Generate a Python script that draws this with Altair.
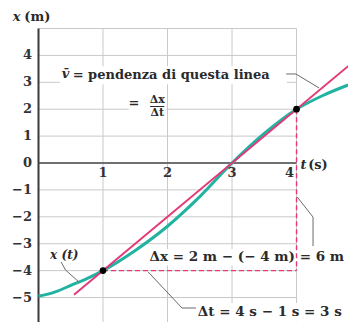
import altair as alt
import pandas as pd

# position x(t) of the moving body, read at sample times (s -> m)
t_curve = [0.0, 0.25, 0.5, 0.75, 1.0, 1.5, 2.0, 2.5, 3.0, 3.5, 4.0, 4.4, 4.8]
x_curve = [-4.95, -4.8, -4.55, -4.3, -4.0, -3.25, -2.35, -1.25, 0.0, 1.1, 2.0, 2.5, 2.9]

# the two instants that bound the interval
t_pts = [1, 4]
x_pts = [-4, 2]

# secant through the two points (slope = average velocity = 2 m/s)
t_sec = [0.55, 4.8]
x_sec = [-4.9, 3.6]

# axis ticks
x_ticks = [1, 2, 3, 4]
y_ticks = [5, 4, 3, 2, 1, 0, -1, -2, -3, -4, -5]
y_labels = ["4", "3", "2", "1", "0", "−1", "−2", "−3", "−4", "−5"]
y_label_vals = [4, 3, 2, 1, 0, -1, -2, -3, -4, -5]

T_MIN, T_MAX = -0.597, 4.798
V_MIN, V_MAX = -5.91, 6.06
GRID_TOP = 5
FONT = "DejaVu Serif"
TEAL = "#22b2a2"
PINK = "#e23a78"

xs = alt.Scale(domain=[T_MIN, T_MAX], nice=False, zero=False)
ys = alt.Scale(domain=[V_MIN, V_MAX], nice=False, zero=False)


def X(f="t"):
    return alt.X(f"{f}:Q", scale=xs, axis=None)


def Y(f="v"):
    return alt.Y(f"{f}:Q", scale=ys, axis=None)


# grid
vgrid = pd.DataFrame({"t": x_ticks, "v0": V_MIN, "v1": GRID_TOP})
hgrid = pd.DataFrame({"v": y_ticks, "t0": 0, "t1": 4})
grid_v = alt.Chart(vgrid).mark_rule(color="#c9c9c9", strokeWidth=1).encode(
    x=X(), y=Y("v0"), y2="v1")
grid_h = alt.Chart(hgrid).mark_rule(color="#c9c9c9", strokeWidth=1).encode(
    y=Y(), x=X("t0"), x2="t1")

# axes
y_axis = alt.Chart(pd.DataFrame({"t": [0], "v0": [V_MIN], "v1": [GRID_TOP]})).mark_rule(
    color="#3a3a3a", strokeWidth=2).encode(x=X(), y=Y("v0"), y2="v1")
x_axis = alt.Chart(pd.DataFrame({"v": [0], "t0": [0], "t1": [4]})).mark_rule(
    color="#4a4a4a", strokeWidth=1.6).encode(y=Y(), x=X("t0"), x2="t1")

ylab = alt.Chart(pd.DataFrame({"v": y_label_vals, "lab": y_labels, "t": -0.1})).mark_text(
    font=FONT, fontSize=13, fontWeight="bold", align="right", baseline="middle",
    color="#333").encode(x=X(), y=Y(), text="lab:N")
xlab_df = pd.DataFrame({"t": x_ticks, "lab": [str(v) for v in x_ticks], "v": -0.37})
xlab = alt.Chart(xlab_df[xlab_df.t < 4]).mark_text(
    font=FONT, fontSize=13, fontWeight="bold", align="center", baseline="middle",
    color="#333").encode(x=X(), y=Y(), text="lab:N")
xlab4 = alt.Chart(xlab_df[xlab_df.t == 4]).mark_text(
    font=FONT, fontSize=13, fontWeight="bold", align="center", baseline="middle",
    dx=-7, color="#333").encode(x=X(), y=Y(), text="lab:N")

# axis titles
def label(df, **kw):
    style = dict(font=FONT, fontSize=13, fontWeight="bold", align="left",
                 baseline="middle", color="#2a2a2a")
    style.update(kw)
    return alt.Chart(pd.DataFrame(df)).mark_text(**style).encode(x=X(), y=Y(), text="s:N")

title_x1 = label({"t": [-0.4], "v": [5.43], "s": ["x"]}, fontStyle="italic")
title_x2 = label({"t": [-0.22], "v": [5.43], "s": ["(m)"]})
title_t1 = label({"t": [4.06], "v": [-0.07], "s": ["t"]}, fontStyle="italic")
title_t2 = label({"t": [4.18], "v": [-0.07], "s": ["(s)"]})

# white boxes behind annotation text
boxes = pd.DataFrame({
    "t0": [0.33, 1.40, 1.68, 2.43],
    "t1": [3.85, 1.98, 4.8, 4.8],
    "v0": [2.93, 1.6, -3.81, -5.9],
    "v1": [3.6, 2.55, -3.2, -5.2],
})
box = alt.Chart(boxes).mark_rect(color="white").encode(
    x=X("t0"), x2="t1", y=Y("v0"), y2="v1")

# curve, secant, dashed legs, points
curve = alt.Chart(pd.DataFrame({"t": t_curve, "v": x_curve})).mark_line(
    color=TEAL, strokeWidth=3, interpolate="monotone").encode(x=X(), y=Y(), order="t:Q")
secant = alt.Chart(pd.DataFrame({"t": t_sec, "v": x_sec})).mark_line(
    color=PINK, strokeWidth=2).encode(x=X(), y=Y())
dash_h = alt.Chart(pd.DataFrame({"t0": [t_pts[0]], "t1": [t_pts[1]], "v": [x_pts[0]]})).mark_rule(
    color=PINK, strokeWidth=1.4, strokeDash=[5, 3]).encode(x=X("t0"), x2="t1", y=Y())
dash_v = alt.Chart(pd.DataFrame({"t": [t_pts[1]], "v0": [x_pts[1]], "v1": [x_pts[0]]})).mark_rule(
    color=PINK, strokeWidth=1.4, strokeDash=[5, 3]).encode(x=X(), y=Y("v0"), y2="v1")
points = alt.Chart(pd.DataFrame({"t": t_pts, "v": x_pts})).mark_circle(
    color="black", size=45, opacity=1).encode(x=X(), y=Y())

# leader lines
leaders = pd.DataFrame({
    "g": ["a"] * 3 + ["b"] * 3 + ["c"] * 3 + ["d"] * 3,
    "k": [0, 1, 2] * 4,
    "t": [3.84, 3.99, 4.35, 0.35, 0.42, 0.63, 4.01, 4.256, 4.256, 1.70, 2.225, 2.44],
    "v": [3.31, 3.31, 2.79, -3.68, -3.98, -4.43, -1.26, -2.01, -3.09, -4.05, -5.39, -5.39],
})
leader = alt.Chart(leaders).mark_line(color="#6a6a6a", strokeWidth=1).encode(
    x=X(), y=Y(), detail="g:N", order="k:Q")

# annotation texts
v_bar = label({"t": [0.36], "v": [3.3], "s": ["v\u0304"]}, fontStyle="italic")
slope_txt = label({"t": [0.53], "v": [3.27], "s": ["= pendenza di questa linea"]})
eq_txt = label({"t": [1.48], "v": [2.22], "s": ["="]}, align="center")
frac_top = label({"t": [1.84], "v": [2.36], "s": ["Δx"]}, align="center", fontSize=11)
frac_bot = label({"t": [1.84], "v": [1.86], "s": ["Δt"]}, align="center", fontSize=11)
frac_bar = alt.Chart(pd.DataFrame({"t0": [1.73], "t1": [1.95], "v": [2.1]})).mark_rule(
    color="#2a2a2a", strokeWidth=1).encode(x=X("t0"), x2="t1", y=Y())
xt_txt = label({"t": [0.18], "v": [-3.42], "s": ["x (t)"]}, fontStyle="italic", fontSize=12)
dx_txt = label({"t": [1.72], "v": [-3.49], "s": ["Δx = 2 m − (− 4 m) = 6 m"]}, fontSize=13.5)
dt_txt = label({"t": [2.47], "v": [-5.52], "s": ["Δt = 4 s − 1 s = 3 s"]}, fontSize=13.5)

chart = alt.layer(
    grid_v, grid_h, box, y_axis, x_axis, dash_h, dash_v, curve, secant, points,
    leader, ylab, xlab, xlab4, title_x1, title_x2, title_t1, title_t2,
    v_bar, slope_txt, eq_txt, frac_top, frac_bot, frac_bar, xt_txt, dx_txt, dt_txt,
).properties(
    width=348, height=322, padding=0,
    autosize=alt.AutoSizeParams(type="none"), background="white",
).configure_view(stroke=None)

chart.save("out.html", embed_options={"renderer": "svg", "actions": False})
